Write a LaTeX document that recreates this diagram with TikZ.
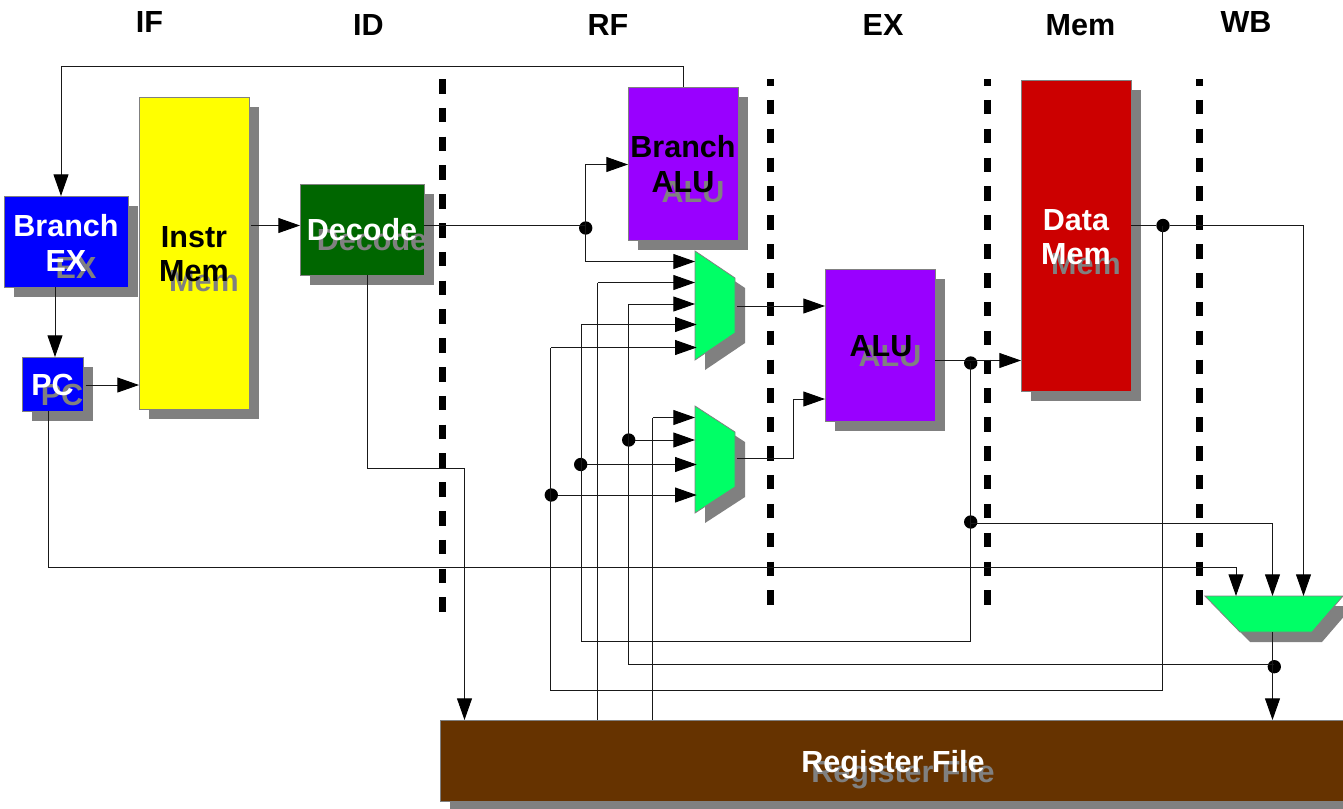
\documentclass[tikz,border=0pt]{standalone}
\usepackage{fontspec}
\setmainfont{Liberation Sans}
\usetikzlibrary{arrows.meta}
\definecolor{shadowgray}{HTML}{808080}
\definecolor{muxgreen}{HTML}{00FF66}
\definecolor{decgreen}{HTML}{006600}
\definecolor{alupurple}{HTML}{9900FF}
\definecolor{memred}{HTML}{CC0000}
\definecolor{rfbrown}{HTML}{663300}
\definecolor{boxyellow}{HTML}{FFFF00}
\definecolor{boxblue}{HTML}{0000FF}
\tikzset{
  boxnode/.style={draw=shadowgray,line width=0.75pt,inner sep=0pt,outer sep=0pt,minimum width=#1},
  lab/.style={font=\bfseries\fontsize{22.9}{26}\selectfont,align=center,inner sep=0pt},
  shadowlab/.style={lab,text=shadowgray},
  head/.style={font=\bfseries\fontsize{22.9}{26}\selectfont,inner sep=0pt},
  wire/.style={line width=0.7pt,black!90},
  arr/.style={wire,-{Triangle[length=16.2pt,width=11.2pt,color=black]}},
  dot/.style={circle,fill=black,inner sep=0pt,outer sep=0pt,minimum size=10pt},
  pipe/.style={line width=5.25pt,black},
  muxanchor/.style={inner sep=0pt,outer sep=0pt},
  muxshape/.style={fill=muxgreen,draw=shadowgray,line width=0.6pt}
}
\begin{document}
\begin{tikzpicture}[x=0.75pt,y=-0.75pt]
\useasboundingbox (0,0) rectangle (1343,808);
\clip (0,0) rectangle (1343,808);
\fill[white] (0,0) rectangle (1343,808);

% stage headers
\node[head] (hif) at (149.5,22) {IF};
\node[head] (hid) at (368.5,25) {ID};
\node[head] (hrf) at (608,25) {RF};
\node[head] (hex) at (883,25) {EX};
\node[head] (hmem) at (1080.5,25) {Mem};
\node[head] (hwb) at (1246,22) {WB};

% pipeline stage separators
\coordinate (p1a) at (442,79); \coordinate (p1b) at (442,612);
\coordinate (p2a) at (770,79); \coordinate (p2b) at (770,605);
\coordinate (p3a) at (987,79); \coordinate (p3b) at (987,605);
\coordinate (p4a) at (1199,79); \coordinate (p4b) at (1199,605);
\draw[pipe,dash pattern=on 10.9pt off 10.7pt] (p1a) -- (p1b);
\draw[pipe,dash pattern=on 10.9pt off 10.74pt,dash phase=6pt] (p2a) -- (p2b);
\draw[pipe,dash pattern=on 10.9pt off 10.74pt,dash phase=6pt] (p3a) -- (p3b);
\draw[pipe,dash pattern=on 10.9pt off 10.74pt,dash phase=6pt] (p4a) -- (p4b);

% shadows
\fill[shadowgray] (14,206) rectangle (138,297);
\fill[shadowgray] (32,367) rectangle (93,421);
\fill[shadowgray] (149,107) rectangle (259,419);
\fill[shadowgray] (310,194) rectangle (434,285);
\fill[shadowgray] (638,97) rectangle (748,250);
\fill[shadowgray] (835,279) rectangle (945,431);
\fill[shadowgray] (1031,90) rectangle (1141,401);
\fill[shadowgray] (450,730) rectangle (1353,811);
% boxes
\node[boxnode=124*0.75pt,minimum height=91*0.75pt,fill=boxblue] (bex) at (66,241.5) {};
\node[boxnode=61*0.75pt,minimum height=54*0.75pt,fill=boxblue] (pc) at (52.5,384) {};
\node[boxnode=110*0.75pt,minimum height=312*0.75pt,fill=boxyellow] (imem) at (194,253) {};
\node[boxnode=124*0.75pt,minimum height=91*0.75pt,fill=decgreen] (dec) at (362,229.5) {};
\node[boxnode=110*0.75pt,minimum height=153*0.75pt,fill=alupurple] (balu) at (683,163.5) {};
\node[boxnode=110*0.75pt,minimum height=152*0.75pt,fill=alupurple] (alu) at (880,345) {};
\node[boxnode=110*0.75pt,minimum height=311*0.75pt,fill=memred] (dmem) at (1076,235.5) {};
\node[boxnode=905*0.75pt,minimum height=81*0.75pt,fill=rfbrown] (rf) at (892.5,760.5) {};

% muxes
\fill[shadowgray] (705,261) -- (745,288) -- (745,343) -- (705,370) -- cycle;
\fill[shadowgray] (705,416) -- (745,442) -- (745,497) -- (705,523) -- cycle;
\fill[shadowgray] (1215,606) -- (1353,606) -- (1322,642) -- (1250,642) -- cycle;
\node[muxanchor,minimum width=40*0.75pt,minimum height=109*0.75pt] (mux1) at (715,305.5) {};
\node[muxanchor,minimum width=40*0.75pt,minimum height=107*0.75pt] (mux2) at (715,459.5) {};
\node[muxanchor,minimum width=138*0.75pt,minimum height=36*0.75pt] (mux3) at (1274,614) {};
\draw[muxshape] (695,251) -- (735,278) -- (735,333) -- (695,360) -- cycle;
\draw[muxshape] (695,406) -- (735,432) -- (735,487) -- (695,513) -- cycle;
\draw[muxshape] (1205,596) -- (1343,596) -- (1312,632) -- (1240,632) -- cycle;

% junction dots
\node[dot] (d1) at (585.7,228) {};
\node[dot] (d2) at (628.7,440) {};
\node[dot] (d3) at (580.7,464.5) {};
\node[dot] (d4) at (551.3,495) {};
\node[dot] (d5) at (970.7,363) {};
\node[dot] (d6) at (970.7,522) {};
\node[dot] (d7) at (1163,225.5) {};
\node[dot] (d8) at (1274.3,666.7) {};

% connector routing points
\coordinate (topr) at (683.5,66.5);
\coordinate (topl) at (61,66.5);
\coordinate (xbp) at (55,300);
\coordinate (pcout) at (85.5,385);
\coordinate (imout) at (251,225.5);
\coordinate (ybr) at (585.5,164.5);
\coordinate (y262) at (585.5,261.5);
\coordinate (a1) at (597.5,282.5);
\coordinate (a2) at (628.5,304);
\coordinate (a3) at (581,324.5);
\coordinate (a4) at (550.5,347.5);
\coordinate (a5) at (652.5,417.5);
\coordinate (mx) at (696.7,0);
\coordinate (m1o) at (737,306);
\coordinate (m2o) at (737,458.5);
\coordinate (o2) at (793.5,458.5);
\coordinate (o3) at (793.5,399);
\coordinate (pcb) at (48.5,567.5);
\coordinate (pcr) at (1236,568.5);
\coordinate (dc1) at (367,468.5);
\coordinate (dc2) at (464.5,468.5);
\coordinate (b1) at (628.5,664.5);
\coordinate (b2) at (581,641.5);
\coordinate (b3) at (970.5,641.5);
\coordinate (b4) at (550.5,690.5);
\coordinate (b5) at (1162.5,690.5);
\coordinate (c1) at (1272.5,523.5);
\coordinate (c2) at (1303.5,225.5);
\coordinate (aluy) at (0,360.5);

% wires
\draw[arr] (balu.north -| topr) -- (topr) -- (topl) -- (bex.north -| topl);
\draw[arr] (bex.south -| xbp) -- (pc.north -| xbp);
\draw[arr] (pcout) -- (imem.west |- pcout);
\draw[arr] (imout) -- (dec.west |- imout);
\draw[wire] (dec.east |- imout) -- (d1 |- imout);
\draw[arr] (d1 -| ybr) -- (ybr) -- (balu.west |- ybr);
\draw[arr] (d1 -| y262) -- (y262) -- (mux1.west |- y262);
\draw[wire] (rf.north -| a1) -- (a1);
\draw[arr] (a1) -- (mux1.west |- a1);
\draw[wire] (d8 |- b1) -- (b1) -- (a2);
\draw[arr] (a2) -- (mux1.west |- a2);
\draw[wire] (d5 -| b3) -- (b3) -- (b2) -- (a3);
\draw[arr] (a3) -- (mx |- a3);
\draw[wire] (d7 -| b5) -- (b5) -- (b4) -- (a4);
\draw[arr] (a4) -- (mx |- a4);
\draw[arr] (m1o) -- (alu.west |- m1o);
\draw[wire] (rf.north -| a5) -- (a5);
\draw[arr] (a5) -- (mux2.west |- a5);
\draw[arr] (d2) -- (mux2.west |- d2);
\draw[arr] (d3) -- (mx |- d3);
\draw[arr] (d4) -- (mx |- d4);
\draw[arr] (m2o) -- (o2) -- (o3) -- (alu.west |- o3);
\draw[wire] (alu.east |- aluy) -- (d5 |- aluy);
\draw[arr] (d5 |- aluy) -- (dmem.west |- aluy);
\draw[wire] (d5) -- (d6);
\draw[arr] (d6 |- c1) -- (c1) -- (mux3.north -| c1);
\draw[wire] (dmem.east |- d7) -- (d7);
\draw[arr] (d7) -- (c2) -- (mux3.north -| c2);
\draw[arr] (pc.south -| pcb) -- (pcb) -- (pcb -| pcr) -- (pcr) -- (mux3.north -| pcr);
\draw[arr] (dec.south -| dc1) -- (dc1) -- (dc2) -- (rf.north -| dc2);
\draw[wire] (mux3.south -| c1) -- (d8 -| c1);
\draw[arr] (d8 -| c1) -- (rf.north -| c1);

% shadowed text (only the last line casts a visible shadow)
\node[shadowlab] (sbex) at (76,268) {EX};
\node[shadowlab] (spc) at (62,395) {PC};
\node[shadowlab] (simem) at (204,281) {Mem};
\node[shadowlab] (sdec) at (372,240) {Decode};
\node[shadowlab] (sbalu) at (693,192) {ALU};
\node[shadowlab] (salu) at (890,356) {ALU};
\node[shadowlab] (sdmem) at (1086,264) {Mem};
\node[shadowlab] (srf) at (903,774.5) {Register File};

% text
\node[lab,text=white] (tbex) at (66,243) {Branch\\EX};
\node[lab,text=white] (tpc) at (52.5,385) {PC};
\node[lab,text=black] (timem) at (194,254) {Instr\\Mem};
\node[lab,text=white] (tdec) at (362,230) {Decode};
\node[lab,text=black] (tbalu) at (683,164) {Branch\\ALU};
\node[lab,text=black] (talu) at (881,346) {ALU};
\node[lab,text=white] (tdmem) at (1076,237) {Data\\Mem};
\node[lab,text=white] (trf) at (893,764.5) {Register File};
\end{tikzpicture}
\end{document}
